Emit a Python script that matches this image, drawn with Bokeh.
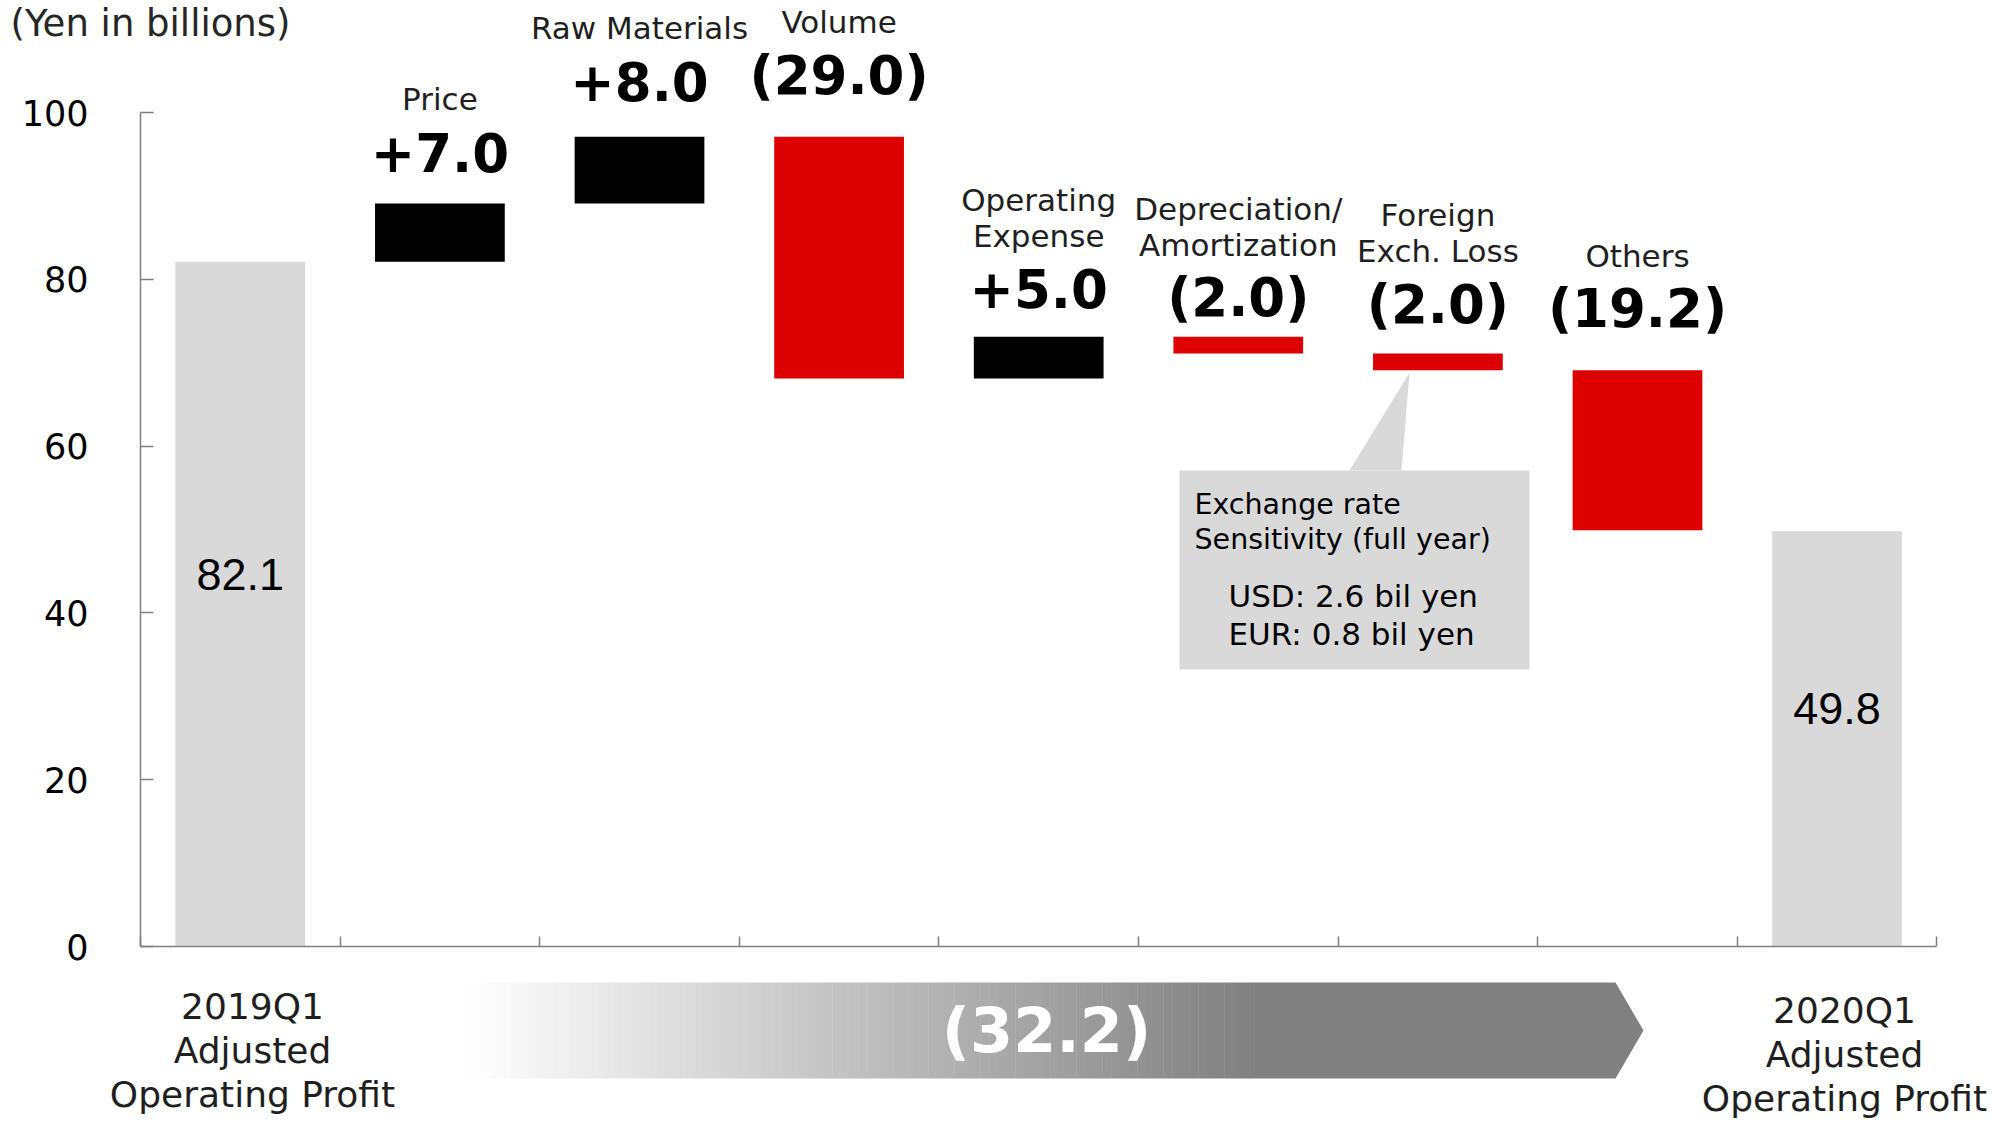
from bokeh.plotting import figure
from bokeh.models import LinearAxis, FixedTicker, Range1d, ColumnDataSource
from bokeh.core.properties import value
from bokeh.embed import file_html
from bokeh.resources import INLINE

# ---------------- data ----------------
categories = ["2019Q1 Adjusted Operating Profit", "Price", "Raw Materials", "Volume",
              "Operating Expense", "Depreciation/Amortization", "Foreign Exch. Loss",
              "Others", "2020Q1 Adjusted Operating Profit"]
label_line1 = ["", "", "", "", "Operating", "Depreciation/", "Foreign", "", ""]
label_line2 = ["", "Price", "Raw Materials", "Volume", "Expense", "Amortization",
               "Exch. Loss", "Others", ""]
start_value = 82.1
changes = [7.0, 8.0, -29.0, 5.0, -2.0, -2.0, -19.2]
end_value = 49.8
y_ticks = [0, 20, 40, 60, 80, 100]
start_label = ["2019Q1", "Adjusted", "Operating Profit"]
end_label = ["2020Q1", "Adjusted", "Operating Profit"]
callout_head = ["Exchange rate", "Sensitivity (full year)"]
callout_sens = ["USD: 2.6 bil yen", "EUR: 0.8 bil yen"]
unit_label = "(Yen in billions)"

# ---------------- layout (pixels) ----------------
W, H = 1997, 1125
LEFT = 140          # y-axis position
PX_X = 199.6        # pixels per category
Y0 = 946            # pixel row of value 0
PX_Y = 8.34         # pixels per unit
LABEL_GAP = [32, 36, 42, 29, 20, 30, 42]   # px from bar top to value-label baseline


def X(px):
    return (px - LEFT) / PX_X


def Y(py):
    return (Y0 - py) / PX_Y


GRAY = "#d9d9d9"
RED = "#dc0000"
BLACK = "#000000"
AXIS = "#7f7f7f"
FONT = "DejaVu Sans"

p = figure(width=W, height=H, x_range=Range1d(X(0), X(W)), y_range=Range1d(Y(H), Y(0)),
           x_axis_type=None, y_axis_type=None, output_backend="svg",
           toolbar_location=None, min_border_left=0, min_border_right=0,
           min_border_top=0, min_border_bottom=0, outline_line_color=None,
           background_fill_color="white", border_fill_color="white")

# axes (drawn at data positions inside the frame)
yaxis = LinearAxis(fixed_location=0, ticker=FixedTicker(ticks=y_ticks), bounds=(0, 100),
                   axis_line_color=AXIS, axis_line_width=1.5,
                   major_tick_in=13, major_tick_out=0, major_tick_line_color=AXIS,
                   major_tick_line_width=1.5, minor_tick_line_color=None,
                   major_label_standoff=52, major_label_text_font=FONT,
                   major_label_text_font_size="35px", major_label_text_color="black")
p.add_layout(yaxis, "left")

n = len(categories)
xaxis = LinearAxis(fixed_location=0, ticker=FixedTicker(ticks=list(range(n + 1))),
                   bounds=(0, n), axis_line_color=AXIS, axis_line_width=1.5,
                   major_tick_in=10, major_tick_out=0, major_tick_line_color=AXIS,
                   major_tick_line_width=1.5, minor_tick_line_color=None,
                   major_label_standoff=0, major_label_text_font_size="0px",
                   major_label_overrides={i: "" for i in range(n + 1)})
p.add_layout(xaxis, "below")

# ---------------- waterfall bars ----------------
cum = [start_value]
for c in changes:
    cum.append(cum[-1] + c)
xs = [i + 0.5 for i in range(n)]
bottoms = [0.0] + [min(cum[i], cum[i + 1]) for i in range(len(changes))] + [0.0]
tops = [start_value] + [max(cum[i], cum[i + 1]) for i in range(len(changes))] + [end_value]
colors = [GRAY] + [BLACK if c > 0 else RED for c in changes] + [GRAY]
p.vbar(x=xs, width=0.65, bottom=bottoms, top=tops, fill_color=colors, line_color=None)


def mid(baseline_gap, size):
    """pixel distance above a reference to the visual middle of a text line"""
    return baseline_gap + 0.365 * size


# value / category labels above change bars
chg_x = xs[1:-1]
chg_top = tops[1:-1]
vtext = [("+%.1f" % c) if c > 0 else ("(%.1f)" % abs(c)) for c in changes]
src = ColumnDataSource(dict(
    x=chg_x,
    yv=[t + mid(g, 53) / PX_Y for t, g in zip(chg_top, LABEL_GAP)],
    y2=[t + mid(g + 61, 31) / PX_Y for t, g in zip(chg_top, LABEL_GAP)],
    y1=[t + mid(g + 61 + 36, 31) / PX_Y for t, g in zip(chg_top, LABEL_GAP)],
    vtext=vtext,
    l1=label_line1[1:-1],
    l2=label_line2[1:-1],
))
p.text(x="x", y="yv", text="vtext", source=src, text_align="center",
       text_baseline="middle", text_font=value(FONT), text_font_style="bold",
       text_font_size="53px", text_color="black")
for col, ycol in (("l1", "y1"), ("l2", "y2")):
    p.text(x="x", y=ycol, text=col, source=src, text_align="center",
           text_baseline="middle", text_font=value(FONT), text_font_size="31px",
           text_color="#1f1f1f")

# totals labels inside gray bars
tot_vals = [start_value, end_value]
p.text(x=[xs[0], xs[-1]], y=[v / 2 + 30 / PX_Y for v in tot_vals],
       text=["%.1f" % v for v in tot_vals], text_align="center", text_baseline="middle",
       text_font=value("Liberation Sans"), text_font_size="45px", text_color="black")

# ---------------- callout for FX loss ----------------
fx_i = 6
fx_bottom = bottoms[fx_i]
p.patch(x=[xs[fx_i] - 0.142, X(1349), X(1401)], y=[fx_bottom - 0.3, Y(470), Y(470)],
        fill_color=GRAY, line_color=None)
p.quad(left=X(1179), right=X(1529), top=Y(470), bottom=Y(669),
       fill_color=GRAY, line_color=None)
p.text(x=[X(1194)] * 2, y=[Y(504), Y(539)], text=callout_head, text_align="left",
       text_baseline="middle", text_font=value(FONT), text_font_size="28.5px",
       text_color="black")
p.text(x=[X(1228)] * 2, y=[Y(595), Y(633)], text=callout_sens, text_align="left",
       text_baseline="middle", text_font=value(FONT), text_font_size="31px",
       text_color="black")

# ---------------- total change arrow ----------------
a_top, a_bot = Y(982), Y(1078)
g0, g1, r_end, tip = X(466), X(1250), X(1615), X(1643)
N = 90
lefts, rights, gcols = [], [], []
for k in range(N):
    f = (k + 0.5) / N
    lv = int(round(255 - (255 - 128) * f))
    lefts.append(g0 + (g1 - g0) * k / N)
    rights.append(g0 + (g1 - g0) * (k + 1) / N + 0.002)
    gcols.append("#%02x%02x%02x" % (lv, lv, lv))
p.quad(left=lefts, right=rights, top=a_top, bottom=a_bot, fill_color=gcols, line_color=None)
p.patch(x=[g1, r_end, tip, r_end, g1], y=[a_top, a_top, (a_top + a_bot) / 2, a_bot, a_bot],
        fill_color="#808080", line_color=None)
total_change = sum(changes)
p.text(x=[X(1046)], y=[(a_top + a_bot) / 2], text=["(%.1f)" % abs(total_change)],
       text_align="center", text_baseline="middle", text_font=value(FONT),
       text_font_style="bold", text_font_size="62px", text_color="white")

# ---------------- outer labels ----------------
p.text(x=[X(252)] * 3, y=[Y(1006), Y(1050), Y(1094)], text=start_label,
       text_align="center", text_baseline="middle", text_font=value(FONT),
       text_font_size="36px", text_color="#1f1f1f")
p.text(x=[X(1844)] * 3, y=[Y(1010), Y(1054), Y(1098)], text=end_label,
       text_align="center", text_baseline="middle", text_font=value(FONT),
       text_font_size="36px", text_color="#1f1f1f")
p.text(x=[X(10)], y=[Y(23)], text=[unit_label], text_align="left",
       text_baseline="middle", text_font=value(FONT),
       text_font_size="37px", text_color="#262626")

open("out.html", "w").write(file_html(p, INLINE))
